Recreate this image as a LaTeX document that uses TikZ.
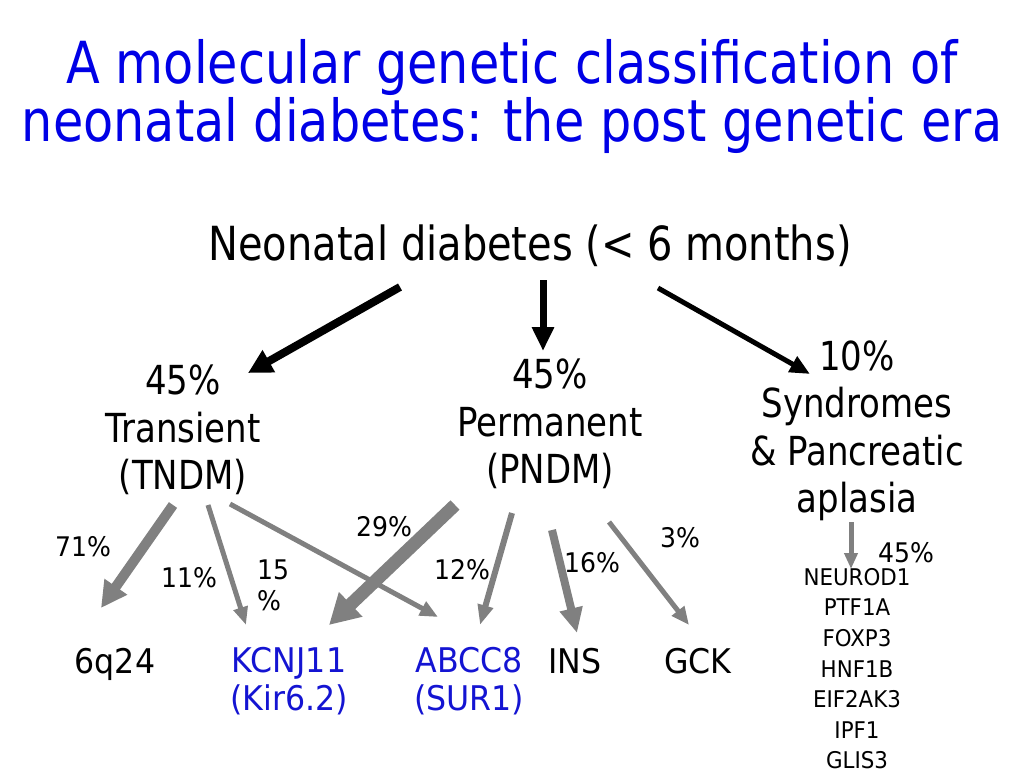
\documentclass[tikz,border=0pt]{standalone}
\usepackage{fontspec}
\setmainfont{DejaVu Sans}[FakeStretch=0.85]
\newfontfamily\smallfam{DejaVu Sans}[FakeStretch=0.93]
\usetikzlibrary{arrows.meta}
\definecolor{titleblue}{RGB}{0,0,230}
\definecolor{geneblue}{RGB}{20,20,210}
\definecolor{arrgrey}{RGB}{128,128,128}
\begin{document}
\begin{tikzpicture}[x=1pt,y=-1pt,
  txt/.style={inner sep=0pt, align=center},
  fsTitle/.style={font=\fontsize{58}{58}\selectfont},
  fsHead/.style={font=\fontsize{47}{54}\selectfont},
  fsCat/.style={font=\fontsize{40}{47.5}\selectfont},
  fsGene/.style={font=\smallfam\fontsize{34}{38}\selectfont},
  fsPct/.style={font=\smallfam\fontsize{27}{31}\selectfont},
  fsList/.style={font=\smallfam\fontsize{23}{30.6}\selectfont},
  blk/.style={draw=black},
  gry/.style={draw=arrgrey},
  tip/.style 2 args={-{Triangle[length=#1,width=#2]}}
]
\useasboundingbox (0,0) rectangle (1024,768);

% title
\node[txt, fsTitle, text=titleblue] (title) at (512,96) {A molecular genetic classification of\\neonatal diabetes: the post genetic era};

% heading
\node[txt, fsHead, anchor=base] (nd) at (530,260) {Neonatal diabetes (< 6 months)};

% categories
\node[txt, fsCat] (tndm) at (183,430) {45\%\\Transient\\(TNDM)};
\node[txt, fsCat] (pndm) at (550,424) {45\%\\Permanent\\(PNDM)};
\node[txt, fsCat] (synd) at (857,431) {10\%\\Syndromes\\\& Pancreatic\\aplasia};

% genes
\node[txt, fsGene, anchor=base] (q24) at (115,673) {6q24};
\node[txt, fsGene, text=geneblue] (kcnj) at (289,681) {KCNJ11\\(Kir6.2)};
\node[txt, fsGene, text=geneblue] (abcc) at (469,681) {ABCC8\\(SUR1)};
\node[txt, fsGene, anchor=base] (ins) at (575,673) {INS};
\node[txt, fsGene, anchor=base] (gck) at (698,673) {GCK};

\node[txt, fsList, anchor=north] (list) at (857,568) {NEUROD1\\PTF1A\\FOXP3\\HNF1B\\EIF2AK3\\IPF1\\GLIS3};

% percentages
\node[txt, fsPct, anchor=base] (p71) at (83,556) {71\%};
\node[txt, fsPct, anchor=base] (p11) at (189,587) {11\%};
\node[txt, fsPct, anchor=north west, align=left] (p15) at (257,560) {15\\\%};
\node[txt, fsPct, anchor=base] (p29) at (384,536) {29\%};
\node[txt, fsPct, anchor=base] (p12) at (462,579) {12\%};
\node[txt, fsPct, anchor=base] (p16) at (592,572) {16\%};
\node[txt, fsPct, anchor=base] (p3) at (680,547) {3\%};
\node[txt, fsPct, anchor=base] (p45) at (906,562) {45\%};

% arrow end points
\coordinate (a1s) at (400,287); \coordinate (a1e) at (248,373);
\coordinate (a2s) at (543,280); \coordinate (a2e) at (543,351);
\coordinate (a3s) at (658,288); \coordinate (a3e) at (810,374);
\coordinate (g1s) at (173,505); \coordinate (g1e) at (101,608);
\coordinate (g2s) at (208,505); \coordinate (g2e) at (246,625);
\coordinate (g3s) at (230,504); \coordinate (g3e) at (438,617);
\coordinate (g4s) at (455,505); \coordinate (g4e) at (329,625);
\coordinate (g5s) at (512,513); \coordinate (g5e) at (480,625);
\coordinate (g6s) at (552,530); \coordinate (g6e) at (577,633);
\coordinate (g7s) at (609,522); \coordinate (g7e) at (689,625);
\coordinate (g8s) at (851,522); \coordinate (g8e) at (851,569);

% black arrows
\draw[blk, line width=8pt, tip={24pt}{24pt}] (a1s) -- (a1e);
\draw[blk, line width=7pt, tip={24pt}{21pt}] (a2s) -- (a2e);
\draw[blk, line width=5pt, tip={20pt}{17pt}] (a3s) -- (a3e);

% grey arrows
\draw[gry, line width=10pt, tip={26pt}{26pt}] (g1s) -- (g1e);
\draw[gry, line width=5pt, tip={18pt}{14pt}] (g2s) -- (g2e);
\draw[gry, line width=5pt, tip={18pt}{15pt}] (g3s) -- (g3e);
\draw[gry, line width=13pt, tip={30pt}{32pt}] (g4s) -- (g4e);
\draw[gry, line width=6pt, tip={20pt}{15pt}] (g5s) -- (g5e);
\draw[gry, line width=8pt, tip={25pt}{22pt}] (g6s) -- (g6e);
\draw[gry, line width=5pt, tip={18pt}{15pt}] (g7s) -- (g7e);
\draw[gry, line width=5pt, tip={16pt}{13pt}] (g8s) -- (g8e);
\end{tikzpicture}
\end{document}
